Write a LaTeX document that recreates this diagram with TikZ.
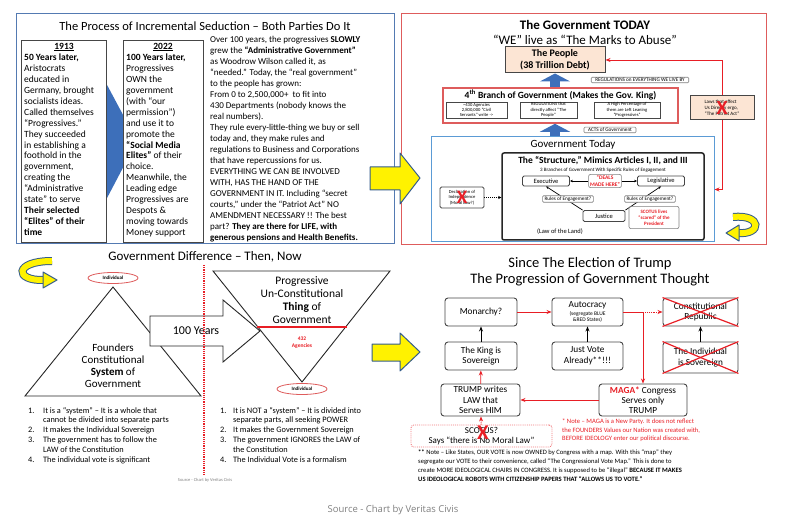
\documentclass[tikz,border=0pt]{standalone}
\usepackage{fontspec}
\setmainfont{Carlito}
\newfontfamily\captionfont{Open Sans}
\usetikzlibrary{arrows.meta,positioning,calc,shapes.geometric}
\definecolor{panelblue}{RGB}{84,122,178}
\definecolor{todayblue}{RGB}{91,155,213}
\definecolor{panelred}{RGB}{222,92,92}
\definecolor{blockblue}{RGB}{61,111,186}
\definecolor{peach}{RGB}{252,229,212}
\definecolor{markred}{RGB}{232,30,37}
\definecolor{yellowedge}{RGB}{52,92,140}
\definecolor{boxgrey}{RGB}{70,70,70}
\newcommand{\fs}[2]{\fontsize{#1}{#2}\selectfont}
\begin{document}
\begin{tikzpicture}[x=1pt,y=-1pt]
    \tikzset{
        txt/.style={inner sep=0pt,align=left},
        panel/.style={draw=#1,line width=1pt},
        greybox/.style={draw=boxgrey,line width=0.8pt,fill=white,inner sep=0pt},
        peachbox/.style={draw=boxgrey,line width=1pt,fill=peach,align=center,inner sep=0pt},
        tinybox/.style={draw=boxgrey,line width=0.7pt,fill=white,align=center,inner sep=0pt,font=\fs{4.6}{5.3}},
        tagbox/.style={draw=gray,line width=0.6pt,rounded corners=1pt,fill=white,inner xsep=4pt,inner ysep=1pt,font=\fs{5.2}{6}},
        blockup/.style={blockblue,line width=10pt,-{Triangle[width=30pt,length=8pt]}},
        yellowarrow/.style={fill=yellow,draw=yellowedge,line width=1pt,line join=round},
        crossmark/.style={text=markred,inner sep=0pt,font=\bfseries\fs{#1}{#1}},
        flowbox/.style={draw=boxgrey,line width=0.9pt,rounded corners=3pt,fill=white,align=center,inner sep=0pt,font=\fs{9.3}{10.8}},
        redarrow/.style={draw=markred,line width=0.9pt,-{Stealth[length=5pt,width=4pt]}},
        blackarrow/.style={draw=black,line width=1pt,-{Stealth[length=5pt,width=4pt]}},
        thinarrow/.style={draw=black,line width=0.7pt,-{Stealth[length=3pt,width=2.5pt]}},
        redcross/.style={draw=markred,line width=1.2pt},
        individual/.style={ellipse,draw=panelred,line width=0.8pt,fill=white,minimum width=50pt,minimum height=11pt,inner sep=0pt,font=\bfseries\fs{5}{5}}
    }
    \useasboundingbox (0,0) rectangle (786,526);

    \draw[panel=panelblue] (16,14) rectangle (394,244);
    \node[font=\fs{12.5}{14}] (seduction) at (205,26) {The Process of Incremental Seduction -- Both Parties Do It};
    \fill[blockblue] (100,115) -- (106,115) -- (106,83) -- (137,141) -- (106,200) -- (106,168) -- (100,168) -- cycle;
    \node[greybox,minimum width=85pt,minimum height=202pt] (box1913) at (64,141) {};
    \node[greybox,minimum width=80pt,minimum height=202pt] (box2022) at (163,141) {};
    \node[font=\bfseries\fs{9.5}{10.9}] (year1913) at (64,47) {\underline{1913}};
    \node[font=\bfseries\fs{9.5}{10.9}] (year2022) at (163,47) {\underline{2022}};
    \node[txt,font=\fs{9.5}{10.9},anchor=north west] (text1913) at (24,54) {\textbf{50 Years later,}\\Aristocrats\\educated in\\Germany, brought\\socialists ideas.\\Called themselves\\“Progressives.”\\They succeeded\\in establishing a\\foothold in the\\government,\\creating the\\“Administrative\\state” to serve\\\textbf{Their selected}\\\textbf{“Elites” of their}\\\textbf{time}};
    \node[txt,font=\fs{9.5}{10.9},anchor=north west] (text2022) at (126,54) {\textbf{100 Years later,}\\Progressives\\OWN the\\government\\(with “our\\permission”)\\and use it to\\promote the\\\textbf{“Social Media}\\\textbf{Elites”} of their\\choice.\\Meanwhile, the\\Leading edge\\Progressives are\\Despots \&\\moving towards\\Money support};
    \node[txt,font=\fs{9}{11},anchor=north west] (growth) at (210,36) {Over 100 years, the progressives \textbf{SLOWLY}\\grew the \textbf{“Administrative Government”}\\as Woodrow Wilson called it, as\\“needed.” Today, the “real government”\\to the people has grown:\\From 0 to 2,500,000+\ \ to fit into\\430 Departments (nobody knows the\\real numbers).\\They rule every-little-thing we buy or sell\\today and, they make rules and\\regulations to Business and Corporations\\that have repercussions for us.\\EVERYTHING WE CAN BE INVOLVED\\WITH, HAS THE HAND OF THE\\GOVERNMENT IN IT. Including “secret\\courts,” under the “Patriot Act” NO\\AMENDMENT NECESSARY !! The best\\part? \textbf{They are there for LIFE, with}\\\textbf{generous pensions and Health Benefits.}};

    \draw[panel=panelred] (401,14) rectangle (766,245);
    \node[font=\bfseries\fs{13}{15}] (todaytitle) at (585,25) {The Government TODAY};
    \node[font=\fs{13}{15}] (marks) at (585,40) {“WE” live as “The Marks to Abuse”};
    \node[peachbox,minimum width=100pt,minimum height=26pt,font=\bfseries\fs{10}{11.5}] (people) at (555,60) {The People\\(38 Trillion Debt)};
    \node[draw=panelred,line width=1.6pt,fill=white,minimum width=235pt,minimum height=35pt] (branch) at (560.5,105.5) {};
    \node[font=\bfseries\fs{9.5}{11}] (branchtitle) at (560.5,95) {4\textsuperscript{th} Branch of Government (Makes the Gov. King)};
    \node[tinybox,minimum width=61pt,minimum height=16pt] (agencies) at (476.5,110) {\textasciitilde430 Agencies\\2,800,000 “Civil\\Servants” write ->};
    \node[tinybox,minimum width=57pt,minimum height=16pt] (regs) at (548.5,110) {REGULATIONS that\\directly affect “The\\People”};
    \node[tinybox,minimum width=66pt,minimum height=16pt] (leaning) at (627,110) {A High Percentage of\\them are Left Leaning\\“Progressives”};
    \node[draw=todayblue,line width=1pt,fill=white,minimum width=283pt,minimum height=105pt] (today) at (572.5,189.5) {};
    \node[font=\fs{11}{13}] (todaylabel) at (573,145) {Government Today};
    \draw[blockup] (branch.north -| people.south) -- (people.south);
    \draw[blockup] (today.north -| people.south) -- (branch.south -| people.south);
    \node[tagbox] (regtag) at (640,80) {REGULATIONS on EVERYTHING WE LIVE BY};
    \node[tagbox] (actstag) at (610,130) {ACTS of Government};
    \node[peachbox,minimum width=64pt,minimum height=24pt,font=\fs{5}{6},align=left] (laws) at (722,108) {Laws that affect\\Us Directly ergo,\\“The Patriot Act”};
    \node[crossmark=20] (lawsx) at (722,108) {X};
    \draw[redarrow] (laws.north) |- (people.east);
    \draw[redarrow] (laws.south) |- (today.east);
    \node[draw=black!85,line width=1.5pt,rounded corners=2pt,minimum width=202pt,minimum height=87pt] (structure) at (603,196.5) {};
    \node[font=\bfseries\fs{9.5}{11}] (structuretitle) at (603,161) {The “Structure,” Mimics Articles I, II, and III};
    \node[font=\fs{5}{6}] (branches) at (603,170) {3 Branches of Government With Specific Rules of Engagement};
    \node[greybox,rounded corners=1.5pt,minimum width=47pt,minimum height=10pt,font=\fs{6.5}{7}] (executive) at (546,181) {Executive};
    \node[greybox,rounded corners=1.5pt,minimum width=47pt,minimum height=10pt,font=\fs{6.5}{7}] (legislative) at (661,181) {Legislative};
    \node[draw=gray,line width=0.6pt,rounded corners=2pt,inner sep=1.5pt,align=center,text=markred,font=\bfseries\fs{5.5}{6.2}] (deals) at (605,181) {“DEALS\\MADE HERE”};
    \draw[thinarrow] (deals) -- (executive);
    \draw[thinarrow] (deals) -- (legislative);
    \node[greybox,rounded corners=1.5pt,minimum width=42pt,minimum height=11pt,font=\fs{6.5}{7}] (justice) at (604,216) {Justice};
    \draw[thinarrow] (justice.north west) -- (executive.south);
    \draw[thinarrow] (justice.north east) -- (legislative.south);
    \node[tagbox,inner xsep=2pt] (rulesleft) at (568,199) {Rules of Engagement?};
    \node[tagbox,inner xsep=2pt] (rulesright) at (650,199) {Rules of Engagement?};
    \node[draw=gray,line width=0.6pt,rounded corners=2pt,minimum width=50pt,minimum height=19pt,align=center,text=markred,font=\bfseries\fs{5}{6}] (scared) at (654,217.5) {SCOTUS lives\\“scared” of the\\President};
    \node[font=\fs{6.5}{7}] (lawland) at (560,232) {(Law of the Land)};
    \node[greybox,rounded corners=1.5pt,minimum width=44pt,minimum height=21pt,align=center,font=\fs{4.6}{5.4}] (declaration) at (462,197.5) {Declaration of\\Independence\\(Moral Law?)};
    \node[crossmark=19] (declarationx) at (462,197.5) {X};
    \draw[densely dotted,line width=0.9pt,-{Stealth[length=3pt,width=3pt]}] (declaration.east) -- (structure.west |- declaration.east);

    \draw[yellowarrow] (370,167) -- (400,167) -- (400,153) -- (420,178) -- (400,204) -- (400,190) -- (370,190) -- cycle;
    \draw[yellowedge,line width=8pt] (733,217) .. controls (762,214) and (762,235) .. (738,233);
    \draw[yellow,line width=6pt] (733,217) .. controls (762,214) and (762,235) .. (738,233);
    \draw[yellowarrow] (739,225) -- (739,241) -- (726,233) -- cycle;

    \node[font=\fs{13}{15}] (difference) at (205,257) {Government Difference -- Then, Now};
    \draw[yellowedge,line width=8pt] (52,261) .. controls (14,261) and (14,281) .. (44,280);
    \draw[yellow,line width=6pt] (52,261) .. controls (14,261) and (14,281) .. (44,280);
    \draw[yellowarrow] (43,272) -- (43,288) -- (57,280) -- cycle;
    \draw[line width=0.9pt,black!85] (113,287) -- (201,396) -- (25,396) -- cycle;
    \node[individual] (individualtop) at (113,278) {Individual};
    \node[align=center,font=\fs{11}{12}] (founders) at (113,366) {Founders\\Constitutional\\\textbf{System} of\\Government};
    \draw[line width=0.9pt,black!85,fill=white] (150,316) -- (223,316) -- (223,300) -- (260,331) -- (223,362) -- (223,346) -- (150,346) -- cycle;
    \node[font=\fs{12}{14}] (hundred) at (196,331) {100 Years};
    \draw[line width=0.9pt,black!85] (213,271) -- (390,271) -- (302,382) -- cycle;
    \node[align=center,font=\fs{11.5}{13}] (progressive) at (302,300.5) {Progressive\\Un-Constitutional\\\textbf{Thing} of\\Government};
    \draw[markred,line width=1.2pt] (257,327) -- (347,327);
    \node[align=center,text=markred,font=\bfseries\fs{5.5}{7}] (agencycount) at (302,343) {432\\Agencies};
    \node[individual] (individualbottom) at (302,389) {Individual};
    \node[txt,font=\fs{8.3}{9.8},anchor=north west] (thenlist) at (28,407) {\makebox[15pt][l]{1.}It is a “system” -- It is a whole that\\\hspace*{15pt}cannot be divided into separate parts\\\makebox[15pt][l]{2.}It makes the Individual Sovereign\\\makebox[15pt][l]{3.}The government has to follow the\\\hspace*{15pt}LAW of the Constitution\\\makebox[15pt][l]{4.}The individual vote is significant};
    \node[txt,font=\fs{8.3}{9.8},anchor=north west] (nowlist) at (220,407) {\makebox[13pt][l]{1.}It is NOT a “system” -- It is divided into\\\hspace*{13pt}separate parts, all seeking POWER\\\makebox[13pt][l]{2.}It makes the Government Sovereign\\\makebox[13pt][l]{3.}The government IGNORES the LAW of\\\hspace*{13pt}the Constitution\\\makebox[13pt][l]{4.}The Individual Vote is a formalism};
    \node[text=gray,font=\fs{4.5}{5}] (chartsource) at (205,480) {Source - Chart by Veritas Civis};
    \draw[markred,densely dotted,line width=1.2pt] (204,265) -- (204,476);

    \draw[yellowarrow] (372,344) -- (400,344) -- (400,333) -- (420,352) -- (400,371) -- (400,361) -- (372,361) -- cycle;
    \node[font=\fs{14.5}{16}] (election) at (590,264) {Since The Election of Trump};
    \node[font=\fs{14.5}{16}] (progression) at (590,280) {The Progression of Government Thought};
    \node[flowbox,minimum width=72pt,minimum height=28pt] (monarchy) at (481,312) {Monarchy?};
    \node[flowbox,minimum width=71pt,minimum height=28pt] (autocracy) at (587.5,312) {Autocracy\\[-3.5pt]{\fs{5.5}{6}(segregate BLUE}\\[-4.5pt]{\fs{5.5}{6}\&RED States)}};
    \node[flowbox,minimum width=75pt,minimum height=28pt] (republic) at (700.5,312) {Constitutional\\Republic};
    \node[flowbox,minimum width=72pt,minimum height=28pt] (king) at (481,356) {The King is\\Sovereign};
    \node[flowbox,minimum width=71pt,minimum height=28pt] (justvote) at (587.5,356) {Just Vote\\Already**!!!};
    \node[flowbox,minimum width=75pt,minimum height=31pt] (sovereign) at (700.5,357.5) {The Individual\\is Sovereign};
    \node[flowbox,minimum width=79pt,minimum height=32pt,font=\fs{9.3}{10.2}] (trump) at (480.5,400) {TRUMP writes\\LAW that\\Serves HIM};
    \node[flowbox,minimum width=88pt,minimum height=32pt,font=\fs{9.3}{10.2}] (maga) at (643,400) {{\color{markred}\bfseries MAGA*} Congress\\Serves only\\TRUMP};
    \node[flowbox,draw=markred!60,densely dotted,minimum width=141pt,minimum height=22pt,font=\fs{9}{10.5}] (scotus) at (481.5,436) {SCOTUS?\\Says “there is No Moral Law”};
    \node[crossmark=21] (scotusx) at (483,433) {X};
    \draw[redcross] (republic.north west) -- (republic.south east);
    \draw[redcross] (republic.south west) -- (republic.north east);
    \draw[redcross] (sovereign.north west) -- (sovereign.south east);
    \draw[redcross] (sovereign.south west) -- (sovereign.north east);
    \draw[blackarrow] (king) -- (monarchy);
    \draw[blackarrow] (justvote) -- (autocracy);
    \draw[blackarrow] (sovereign) -- (republic);
    \draw[redarrow] (trump) -- (king);
    \draw[redarrow,densely dotted] (scotus) -- (trump);
    \draw[redarrow] (monarchy) -- (autocracy);
    \draw[redarrow] (autocracy.east) -| (maga.north);
    \draw[redarrow,densely dotted] (maga.north |- autocracy.east) -- (republic.west);
    \draw[redarrow] (maga.west) -- (trump.east);
    \node[txt,text=markred,font=\fs{6.6}{8.3},anchor=north west] (maganote) at (562,419) {* Note -- MAGA is a New Party. It does not reflect\\the FOUNDERS Values our Nation was created with,\\BEFORE IDEOLOGY enter our political discourse.};
    \node[txt,font=\fs{6.6}{9},anchor=north west] (votenote) at (418,450) {\textbf{**} Note -- Like States, OUR VOTE is now OWNED by Congress with a map. With this “map” they\\segregate our VOTE to their convenience, called “The Congressional Vote Map.” This is done to\\create MORE IDEOLOGICAL CHAIRS IN CONGRESS. It is supposed to be “illegal” \textbf{BECAUSE IT MAKES}\\\textbf{US IDEOLOGICAL ROBOTS WITH CITIZENSHIP PAPERS THAT “ALLOWS US TO VOTE.”}};

    \node[text=gray,font=\captionfont\fs{9.5}{11}] (caption) at (393,510) {Source - Chart by Veritas Civis};
\end{tikzpicture}
\end{document}
